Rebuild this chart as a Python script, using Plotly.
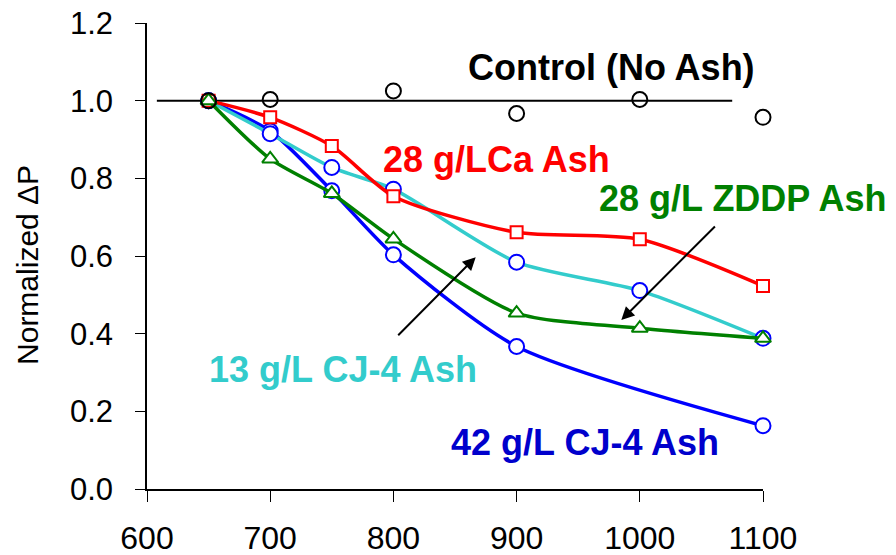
import plotly.graph_objects as go

# Temperature (x) and normalized pressure drop (y) per ash loading
control_x = [650, 700, 800, 900, 1000, 1100]
control_y = [1.0, 1.003, 1.025, 0.967, 1.003, 0.957]
control_ref_x = [608, 1075]
control_ref_y = [1.0, 1.0]

ca28_x = [650, 700, 750, 800, 900, 1000, 1100]
ca28_y = [1.0, 0.957, 0.883, 0.754, 0.661, 0.643, 0.523]

cj13_x = [650, 700, 750, 800, 900, 1000, 1100]
cj13_y = [1.0, 0.915, 0.828, 0.772, 0.584, 0.511, 0.388]

cj42_x = [650, 700, 750, 800, 900, 1100]
cj42_y = [1.0, 0.922, 0.768, 0.603, 0.367, 0.163]

zddp28_x = [650, 700, 750, 800, 900, 1000, 1100]
zddp28_y = [1.0, 0.85, 0.761, 0.644, 0.453, 0.414, 0.388]

x_ticks = [600, 700, 800, 900, 1000, 1100]
y_ticks = [0.0, 0.2, 0.4, 0.6, 0.8, 1.0, 1.2]

FONT = "Arial, Liberation Sans, sans-serif"
RED = "#FF0000"
CYAN = "#33CCCC"
BLUE = "#0000FF"
GREEN = "#008000"

fig = go.Figure()

fig.add_trace(go.Scatter(x=control_ref_x, y=control_ref_y, mode="lines",
                         line=dict(color="black", width=2), hoverinfo="skip",
                         cliponaxis=False))


def series(x, y, color, symbol, size, marker_color=None):
    fig.add_trace(go.Scatter(
        x=x, y=y, mode="lines+markers", cliponaxis=False,
        line=dict(color=color, width=3.5, shape="spline", smoothing=0.7),
        marker=dict(symbol=symbol, size=size, color="white",
                    line=dict(color=marker_color or color, width=2)),
    ))


series(cj42_x, cj42_y, BLUE, "circle", 15)
# 13 g/L CJ-4 uses blue circle markers on a cyan line
series(cj13_x, cj13_y, CYAN, "circle", 15, marker_color=BLUE)
series(ca28_x, ca28_y, RED, "square", 12)
series(zddp28_x, zddp28_y, GREEN, "triangle-up", 14)

# Control points drawn last, open circles on top
fig.add_trace(go.Scatter(x=control_x, y=control_y, mode="markers",
                         cliponaxis=False,
                         marker=dict(symbol="circle-open", size=15,
                                     color="black",
                                     line=dict(color="black", width=2))))

labels = [
    ("Control (No Ash)", 976.8, 1.085, "black"),
    ("28 g/LCa Ash", 883.4, 0.848, RED),
    ("28 g/L ZDDP Ash", 1083, 0.749, GREEN),
    ("13 g/L CJ-4 Ash", 759.3, 0.307, CYAN),
    ("42 g/L CJ-4 Ash", 955.3, 0.12, "#0000CC"),
]
for text, x, y, color in labels:
    fig.add_annotation(x=x, y=y, xref="x", yref="y", text=f"<b>{text}</b>",
                       showarrow=False, xanchor="center", yanchor="middle",
                       font=dict(family=FONT, size=36, color=color))

# Pointer arrows from labels to their curves
arrows = [((802.7, 0.392), (866.8, 0.597)), ((1062.2, 0.680), (985.0, 0.435))]
for (tx, ty), (hx, hy) in arrows:
    fig.add_annotation(x=hx, y=hy, ax=tx, ay=ty, xref="x", yref="y",
                       axref="x", ayref="y", text="", showarrow=True,
                       arrowhead=2, arrowsize=1.3, arrowwidth=2,
                       arrowcolor="black")

fig.add_annotation(text="Normalized ΔP", xref="paper", yref="paper",
                   x=-0.193, y=0.481, textangle=-90, showarrow=False,
                   xanchor="center", yanchor="middle",
                   font=dict(family=FONT, size=30, color="black"))

fig.update_layout(
    width=896, height=555,
    margin=dict(l=147, r=133, t=23, b=66, autoexpand=False),
    paper_bgcolor="white", plot_bgcolor="white",
    showlegend=False,
    font=dict(family=FONT, color="black"),
)
fig.update_xaxes(range=[600, 1100], tickvals=x_ticks,
                 ticktext=[str(v) for v in x_ticks], automargin=False,
                 showgrid=False, zeroline=False, showline=True,
                 linecolor="black", linewidth=1.5, ticks="outside",
                 ticklen=11, tickwidth=1.2, tickcolor="black",
                 ticklabelstandoff=9,
                 tickfont=dict(family=FONT, size=32, color="black"))
fig.update_yaxes(range=[0, 1.2], tickvals=y_ticks,
                 ticktext=[f"{v:.1f}" for v in y_ticks], automargin=False,
                 showgrid=False, zeroline=False, showline=True,
                 linecolor="black", linewidth=1.5, ticks="outside",
                 ticklen=10, tickwidth=1.2, tickcolor="black",
                 ticklabelstandoff=16,
                 tickfont=dict(family=FONT, size=31, color="black"))

fig.write_html("out.html")
